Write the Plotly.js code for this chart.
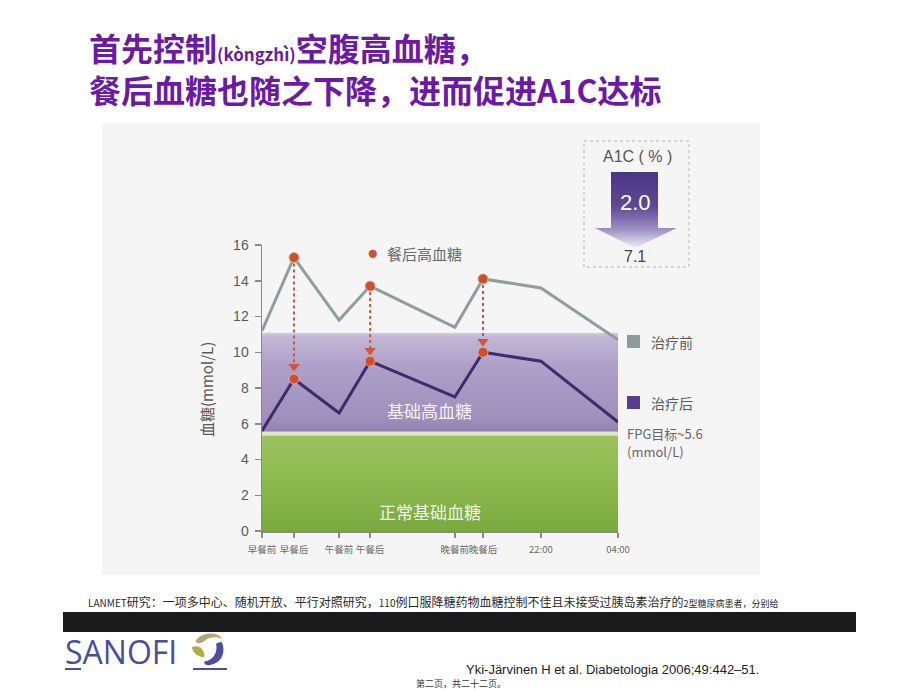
<!DOCTYPE html>
<html>
<head>
<meta charset="utf-8">
<script src="https://cdn.plot.ly/plotly-3.0.1.min.js"></script>
<style>
html,body{margin:0;padding:0;background:#fff;}
#chart{width:920px;height:691px;}
</style>
</head>
<body>
<div id="chart"></div>
<script>
// ---------------- data ----------------
const timeLabels = ['早餐前','早餐后','午餐前','午餐后','晚餐前','晚餐后','22:00','04:00'];
const timePos    = [0, 1, 2.41, 3.38, 6.03, 6.91, 8.72, 11.13];
const beforeTx   = [11.2, 15.3, 11.8, 13.7, 11.4, 14.1, 13.6, 10.7];
const afterTx    = [5.6, 8.5, 6.6, 9.5, 7.5, 10.0, 9.5, 6.1];
const postMealIdx = [1, 3, 5];
const arrowTips   = [9.2, 10.1, 10.6];
const normalBand  = [0, 5.35];
const fpgStripe   = [5.35, 5.55];
const highBand    = [5.55, 11.1];
const yTicks      = [0, 2, 4, 6, 8, 10, 12, 14, 16];
const a1cDrop     = '2.0';
const a1cFinal    = '7.1';
const seriesNames = ['治疗前', '治疗后'];

// ---------------- helpers (layout positions in page pixels) ----------------
const W = 920, H = 691;
const px = x => x / W;
const py = y => 1 - y / H;
const FONT = '"Noto Sans CJK SC", "Liberation Sans", Arial, sans-serif';
const SANS = '"Liberation Sans", Arial, "Noto Sans CJK SC", sans-serif';

function svgURI(s){ return 'data:image/svg+xml;charset=utf-8,' + encodeURIComponent(s); }

const purpleBandSVG = svgURI(
 '<svg xmlns="http://www.w3.org/2000/svg" width="100" height="100" preserveAspectRatio="none" viewBox="0 0 100 100">' +
 '<defs><linearGradient id="g" x1="0" y1="0" x2="0" y2="1">' +
 '<stop offset="0" stop-color="#d6cee2"/><stop offset="0.04" stop-color="#c2b7d6"/>' +
 '<stop offset="0.35" stop-color="#ad9fc8"/><stop offset="0.85" stop-color="#a090bd"/>' +
 '<stop offset="1" stop-color="#9282b2"/></linearGradient></defs>' +
 '<rect width="100" height="100" fill="url(#g)"/></svg>');
const greenBandSVG = svgURI(
 '<svg xmlns="http://www.w3.org/2000/svg" width="100" height="100" preserveAspectRatio="none" viewBox="0 0 100 100">' +
 '<defs><linearGradient id="g" x1="0" y1="0" x2="0" y2="1">' +
 '<stop offset="0" stop-color="#9cc45c"/><stop offset="0.5" stop-color="#8bb94d"/>' +
 '<stop offset="1" stop-color="#7aa93f"/></linearGradient></defs>' +
 '<rect width="100" height="100" fill="url(#g)"/></svg>');
const a1cBoxSVG = svgURI(
 '<svg xmlns="http://www.w3.org/2000/svg" width="107" height="128" viewBox="0 0 107 128">' +
 '<defs><linearGradient id="a" x1="0" y1="0" x2="0" y2="1">' +
 '<stop offset="0" stop-color="#4a3583"/><stop offset="0.45" stop-color="#5e4892"/>' +
 '<stop offset="0.75" stop-color="#9d8ec2"/><stop offset="1" stop-color="#f0ecf5"/></linearGradient></defs>' +
 '<rect x="1" y="1" width="105" height="126" fill="none" stroke="#c9c9c9" stroke-width="1.5" stroke-dasharray="3,3"/>' +
 '<path d="M28 32 L75 32 L75 88 L94 88 L52 108 L12 88 L28 88 Z" fill="url(#a)"/>' +
 '</svg>');
const sanofiEmblemSVG = svgURI(
 '<svg xmlns="http://www.w3.org/2000/svg" width="40" height="40" viewBox="0 0 40 40">' +
 '<path d="M6 12 C10 2 30 -1 36 9 C30 6 22 6 16 11 C12 14 8 14 6 12 Z" fill="#b9a57a"/>' +
 '<path d="M2 18 C9 15 16 19 16 29 C9 29 3 24 2 18 Z" fill="#a8b23c"/>' +
 '<path d="M35 12 C41 24 34 37 21 38 C17 38 15 36 16 34 C26 32 31 24 29 14 Z" fill="#4b4fa3"/>' +
 '</svg>');

// ---------------- traces ----------------
const traces = [];
traces.push({
  x: timePos, y: beforeTx, type: 'scatter', mode: 'lines', name: seriesNames[0],
  line: {color: '#8e9e9f', width: 3}, hoverinfo: 'skip'
});
traces.push({
  x: timePos, y: afterTx, type: 'scatter', mode: 'lines', name: seriesNames[1],
  line: {color: '#3d2b6c', width: 3}, hoverinfo: 'skip'
});
// dotted reduction arrows
postMealIdx.forEach((i, k) => {
  traces.push({
    x: [timePos[i], timePos[i]], y: [beforeTx[i], arrowTips[k]],
    type: 'scatter', mode: 'lines', line: {color: '#d0563a', width: 2, dash: 'dot'},
    hoverinfo: 'skip', showlegend: false
  });
});
traces.push({
  x: postMealIdx.map(i => timePos[i]), y: arrowTips, type: 'scatter', mode: 'markers',
  marker: {symbol: 'triangle-down', size: 10, color: '#d0563a'}, hoverinfo: 'skip', showlegend: false
});
traces.push({
  x: postMealIdx.map(i => timePos[i]).concat(postMealIdx.map(i => timePos[i])),
  y: postMealIdx.map(i => beforeTx[i]).concat(postMealIdx.map(i => afterTx[i])),
  type: 'scatter', mode: 'markers',
  marker: {size: 10, color: '#c9512d', line: {color: '#e9a58c', width: 1}},
  hoverinfo: 'skip', showlegend: false, cliponaxis: false
});

// ---------------- layout ----------------
const annotations = [
  {text: '首先控制<span style="font-size:17px">(kòngzhì)</span>空腹高血糖，<br>餐后血糖也随之下降，进而促进A1C达标',
   x: px(87), y: py(68), align: 'left',
   font: {size: 32, color: '#6b1aa6', family: FONT, weight: 'bold'}},
  {text: '血糖(mmol/L)', x: px(206), y: py(390), textangle: -90, xanchor: 'center',
   font: {size: 15, color: '#5a5a5a', family: FONT}},
  {text: '餐后高血糖', x: px(385), y: py(253), font: {size: 15, color: '#6a6a6a', family: FONT}},
  {text: '●', x: px(372), y: py(252), xanchor: 'center', font: {size: 19, color: '#c9512d', family: SANS}},
  {text: seriesNames[0], x: px(649), y: py(342), font: {size: 14, color: '#5a5a5a', family: FONT}},
  {text: seriesNames[1], x: px(649), y: py(403), font: {size: 14, color: '#5a5a5a', family: FONT}},
  {text: 'FPG目标~5.6', x: px(625), y: py(433), font: {size: 13, color: '#666', family: FONT}},
  {text: '(mmol/L)', x: px(625), y: py(451), font: {size: 13, color: '#666', family: FONT}},
  {text: '基础高血糖', x: 5.25, y: 6.75, xref: 'x', yref: 'y', xanchor: 'center',
   font: {size: 17, color: 'rgba(255,255,255,0.9)', family: FONT}},
  {text: '正常基础血糖', x: 5.25, y: 1.1, xref: 'x', yref: 'y', xanchor: 'center',
   font: {size: 17, color: 'rgba(255,255,255,0.9)', family: FONT}},
  {text: 'A1C ( % )', x: px(637), y: py(157), xanchor: 'center', font: {size: 16, color: '#555', family: SANS}},
  {text: a1cDrop, x: px(635), y: py(202), xanchor: 'center', font: {size: 22, color: '#ffffff', family: SANS}},
  {text: a1cFinal, x: px(635), y: py(256), xanchor: 'center', font: {size: 16, color: '#444', family: SANS}},
  {text: '<span style="font-size:10px">LANMET</span>研究：一项多中心、随机开放、平行对照研究，<span style="font-size:10px">110</span>例口服降糖药物血糖控制不佳且未接受过胰岛素治疗的<span style="font-size:9px">2型糖尿病患者，分别给</span>',
   x: px(86), y: py(601), font: {size: 12, color: '#2a2a2a', family: FONT}},
  {text: 'SANOFI', x: px(63), y: py(651), font: {size: 32, color: '#4a4e9e', family: '"Open Sans", "Liberation Sans", sans-serif'}},
  {text: '第二页，共二十二页。', x: px(414), y: py(683), font: {size: 9, color: '#333', family: FONT}},
  {text: 'Yki-Järvinen H et al. Diabetologia 2006;49:442–51.', x: px(464), y: py(669),
   font: {size: 13, color: '#222', family: SANS}}
].map(a => Object.assign({xref: 'paper', yref: 'paper', xanchor: 'left', yanchor: 'middle', showarrow: false}, a));

const shapes = [
  // chart image background
  {type: 'rect', xref: 'paper', yref: 'paper', x0: px(102), x1: px(760), y0: py(575), y1: py(123),
   fillcolor: '#f5f5f5', line: {width: 0}, layer: 'below'},
  // pale FPG stripe
  {type: 'rect', xref: 'x', yref: 'y', x0: timePos[0], x1: timePos[timePos.length - 1],
   y0: fpgStripe[0], y1: fpgStripe[1], fillcolor: '#dfe6c6', line: {width: 0}, layer: 'below'},
  // legend squares
  {type: 'rect', xref: 'paper', yref: 'paper', x0: px(627), x1: px(640), y0: py(348), y1: py(335),
   fillcolor: '#8d9a9e', line: {width: 0}},
  {type: 'rect', xref: 'paper', yref: 'paper', x0: px(627), x1: px(640), y0: py(409), y1: py(396),
   fillcolor: '#5b3d8d', line: {width: 0}},
  // dark bar
  {type: 'rect', xref: 'paper', yref: 'paper', x0: px(63), x1: px(856), y0: py(632), y1: py(612),
   fillcolor: '#1b1b1d', line: {width: 0}},
  // sanofi underlines
  {type: 'line', xref: 'paper', yref: 'paper', x0: px(65), x1: px(81), y0: py(669), y1: py(669),
   line: {color: '#4a4e9e', width: 2}},
  {type: 'line', xref: 'paper', yref: 'paper', x0: px(193), x1: px(227), y0: py(669), y1: py(669),
   line: {color: '#4a4e9e', width: 2}}
];

const images = [
  {source: purpleBandSVG, xref: 'x', yref: 'y', x: timePos[0], y: highBand[1],
   sizex: timePos[timePos.length - 1] - timePos[0], sizey: highBand[1] - highBand[0],
   sizing: 'stretch', xanchor: 'left', yanchor: 'top', layer: 'below'},
  {source: greenBandSVG, xref: 'x', yref: 'y', x: timePos[0], y: normalBand[1],
   sizex: timePos[timePos.length - 1] - timePos[0], sizey: normalBand[1] - normalBand[0],
   sizing: 'stretch', xanchor: 'left', yanchor: 'top', layer: 'below'},
  {source: a1cBoxSVG, xref: 'paper', yref: 'paper', x: px(583), y: py(140),
   sizex: 107 / W, sizey: 128 / H, sizing: 'stretch', xanchor: 'left', yanchor: 'top', layer: 'above'},
  {source: sanofiEmblemSVG, xref: 'paper', yref: 'paper', x: px(190), y: py(631),
   sizex: 36 / W, sizey: 36 / H, sizing: 'stretch', xanchor: 'left', yanchor: 'top', layer: 'above'}
];

const layout = {
  width: W, height: H,
  margin: {l: 0, r: 0, t: 0, b: 0, pad: 0},
  paper_bgcolor: '#ffffff', plot_bgcolor: 'rgba(0,0,0,0)',
  showlegend: false,
  xaxis: {
    domain: [px(262), px(618)], range: [timePos[0], timePos[timePos.length - 1]],
    tickmode: 'array', tickvals: timePos, ticktext: timeLabels, tickangle: 0,
    showgrid: false, zeroline: false, showline: true, linecolor: '#8a8a8a', linewidth: 1.5,
    ticks: 'outside', ticklen: 5, tickcolor: '#8a8a8a', tickwidth: 1.5, ticklabelstandoff: 4,
    tickfont: {size: 9.5, color: '#6a6a6a', family: FONT}, automargin: false, fixedrange: true
  },
  yaxis: {
    domain: [py(531), py(245)], range: [0, 16],
    tickmode: 'array', tickvals: yTicks,
    showgrid: false, zeroline: false, showline: true, linecolor: '#8a8a8a', linewidth: 1.5,
    ticks: 'outside', ticklen: 6, tickcolor: '#8a8a8a', tickwidth: 1.5, ticklabelstandoff: 3,
    tickfont: {size: 14, color: '#5a5a5a', family: SANS}, automargin: false, fixedrange: true
  },
  annotations: annotations,
  shapes: shapes,
  images: images
};

Plotly.newPlot('chart', traces, layout, {displayModeBar: false, staticPlot: true});
</script>
</body>
</html>
